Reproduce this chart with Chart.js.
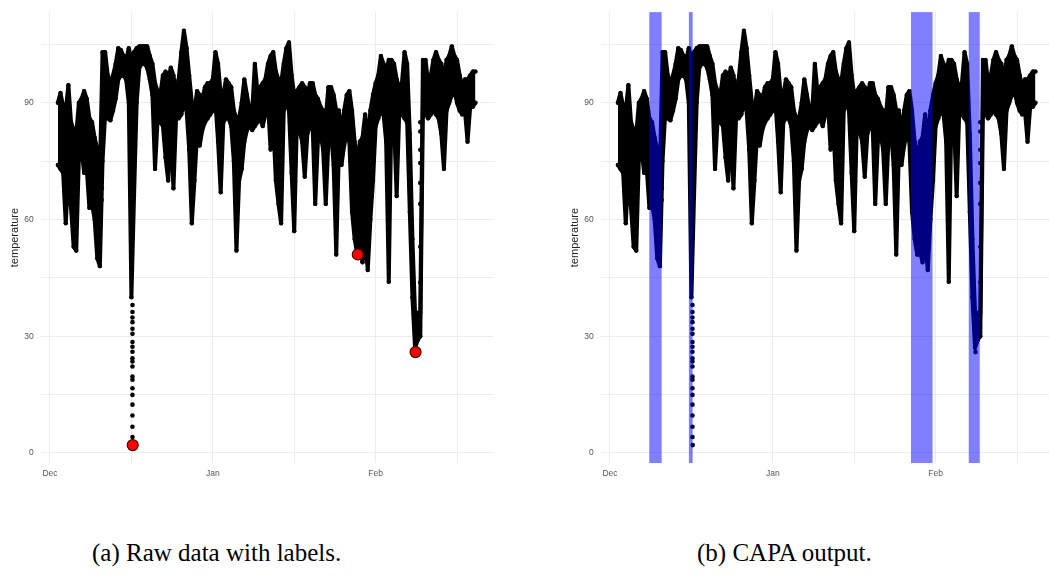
<!DOCTYPE html>
<html>
<head>
<meta charset="utf-8">
<script src="https://cdn.jsdelivr.net/npm/chart.js@4.4.1/dist/chart.umd.min.js"></script>
<style>
  html, body { margin: 0; padding: 0; background: #fff; }
  body { width: 1049px; height: 576px; overflow: hidden; position: relative; }
  .panel { position: absolute; top: 0; width: 520px; height: 480px; }
  #panelA { left: 0; }
  #panelB { left: 560px; }
  .caption { position: absolute; top: 540px; font-family: 'Liberation Serif', serif; font-size: 25px; line-height: 25px; color: #000; white-space: nowrap; }
</style>
</head>
<body>
<div class="panel" id="panelA"><canvas id="rawChart" width="520" height="480"></canvas></div>
<div class="panel" id="panelB"><canvas id="capaChart" width="520" height="480"></canvas></div>
<div class="caption" style="left:92px">(a) Raw data with labels.</div>
<div class="caption" style="left:697px">(b) CAPA output.</div>
<script>
// days since 1 Dec, every half day
const envDays = [
  1.5, 2, 2.5, 3, 3.5, 4, 4.5, 5, 5.5, 6,
  6.5, 7, 7.5, 8, 8.5, 9, 9.5, 10, 10.5, 11,
  11.5, 12, 12.5, 13, 13.5, 14, 14.5, 15, 15.5, 16,
  16.5, 17, 17.5, 18, 18.5, 19, 19.5, 20, 20.5, 21,
  21.5, 22, 22.5, 23, 23.5, 24, 24.5, 25, 25.5, 26,
  26.5, 27, 27.5, 28, 28.5, 29, 29.5, 30, 30.5, 31,
  31.5, 32, 32.5, 33, 33.5, 34, 34.5, 35, 35.5, 36,
  36.5, 37, 37.5, 38, 38.5, 39, 39.5, 40, 40.5, 41,
  41.5, 42, 42.5, 43, 43.5, 44, 44.5, 45, 45.5, 46,
  46.5, 47, 47.5, 48, 48.5, 49, 49.5, 50, 50.5, 51,
  51.5, 52, 52.5, 53, 53.5, 54, 54.5, 55, 55.5, 56,
  56.5, 57, 57.5, 58, 58.5, 59, 59.5, 60, 60.5, 61,
  61.5, 62, 62.5, 63, 63.5, 64, 64.5, 65, 65.5, 66,
  66.5, 67, 67.5, 68, 68.5, 69, 69.5, 70, 70.5, 71,
  71.5, 72, 72.5, 73, 73.5, 74, 74.5, 75, 75.5, 76,
  76.5, 77, 77.5, 78, 78.5, 79, 79.5, 80, 80.5, 81
];
// upper edge of the point cloud
const envHigh = [
  90, 92.5, 89, 88, 94.5, 85, 83, 82, 90, 91,
  93, 91, 86, 85, 81, 78, 72, 103, 103, 97,
  95, 97, 100, 104, 103.5, 102, 101, 104, 101, 103,
  104, 104.5, 104.5, 104.5, 104.5, 102, 100, 95, 93, 92,
  97, 98, 96, 99, 97, 93, 96, 103, 108.5, 104,
  97, 90, 88, 93, 92, 91, 94, 95, 95, 96,
  103, 100, 92, 92, 96, 95, 94, 88, 86, 86,
  90, 96, 92, 88, 88, 100, 93, 94, 95, 96,
  100, 102, 103, 98, 96, 95, 100, 104, 105.5, 97,
  92, 93, 94, 95, 94, 92, 95, 95, 92, 91,
  89, 88, 86, 94, 94, 92, 88, 88, 82, 88,
  92, 93, 88, 80, 75, 80, 81, 87, 80, 88,
  92, 95, 97, 102, 100, 98, 101, 101, 100, 96,
  94, 95, 103, 100, 82, 55, 36, 36, 36, 101,
  101, 95, 97, 101, 103, 101, 100, 96, 101, 102,
  104.5, 102, 101, 97, 94, 96, 96, 97, 98, 98
];
// lower edge of the point cloud
const envLow = [
  74, 73, 72, 59, 72, 63, 53, 52, 76, 78,
  72, 73, 63, 64, 60, 50, 48, 75, 87, 86,
  85.5, 88, 91, 96, 97, 97, 96, 90, 40, 66,
  90, 99, 100, 100, 99, 96, 92, 73, 86, 85,
  84, 76, 70, 84, 68, 86, 86, 87, 90, 88,
  78, 59, 70, 82, 79, 83, 85, 86, 87, 88,
  90, 80, 67, 85, 86, 86, 84, 75, 52, 70,
  73, 80, 83, 84, 83, 84, 85, 86, 84, 87,
  90, 78, 85, 70, 64, 59, 88, 90, 88, 72,
  57, 85, 83, 80, 71, 82, 84, 84, 64, 80,
  82, 78, 64, 80, 83, 74, 51, 78, 74, 79,
  82, 80, 62, 55, 51, 52, 49, 55, 47, 60,
  70, 84, 86, 88, 87, 80, 44, 88, 85, 66,
  88, 87, 86, 85, 62, 40, 27, 29, 30, 88,
  87, 86, 87, 88, 87, 86, 82, 73, 88, 90,
  92, 93, 90, 88, 87, 88, 80, 89, 89, 90
];
// isolated readings outside the dense cloud
const sparseDays = [
  9.85, 9.85, 9.85, 9.85, 9.85,
  15.7, 15.7, 15.7, 15.7, 15.7, 15.7, 15.7, 15.7, 15.7, 15.7,
  15.7, 15.7, 15.7, 15.7, 15.7, 15.7, 15.7, 15.7, 15.7, 15.7,
  70.5, 70.5, 70.5, 70.5, 70.5, 70.5, 70.5, 70.5
];
const sparseTemps = [
  77, 74, 71, 68, 65,
  38, 36.2, 34.8, 33.6, 31.9, 30.6, 28.5, 27.3, 26, 24.3,
  23.5, 22.2, 19.6, 18.8, 16.6, 14.9, 12.4, 9.6, 6.7, 4.1,
  85, 82.6, 77.9, 74.5, 69.4, 64, 53, 43.8
];
// labelled anomalies (red in panel a, plain points in panel b)
const anomDays = [15.75, 58.6, 69.6];
const anomTemps = [2.0, 51.0, 25.9];
// CAPA collective anomaly windows (panel b)
const capaStart = [7.48, 15.02, 57.3, 68.3];
const capaEnd = [9.83, 15.73, 61.4, 70.4];

const xTickValues = [0, 15.5, 31, 46.5, 62, 77.5];
const xTickLabels = ['Dec', '', 'Jan', '', 'Feb', ''];
const yTickValues = [0, 15, 30, 45, 60, 75, 90, 105];
const yTickLabels = ['0', '', '30', '', '60', '', '90', ''];

const capaShade = {
  id: 'capaShade',
  afterDatasetsDraw(chart) {
    const { ctx, chartArea, scales: { x } } = chart;
    ctx.save();
    ctx.fillStyle = 'rgba(0, 0, 255, 0.5)';
    capaStart.forEach((start, i) => {
      const x0 = x.getPixelForValue(start);
      const x1 = x.getPixelForValue(capaEnd[i]);
      ctx.fillRect(x0, chartArea.top, x1 - x0, chartArea.bottom - chartArea.top);
    });
    ctx.restore();
  }
};

const tickFont = { family: "'Liberation Sans', Arial, sans-serif", size: 8.5 };

function edgeLine(values, fill, order) {
  return {
    data: envDays.map((d, i) => ({ x: d, y: values[i] })),
    borderColor: '#000',
    backgroundColor: '#000',
    borderWidth: 4,
    borderJoinStyle: 'round',
    borderCapStyle: 'round',
    pointRadius: 2.2,
    pointBackgroundColor: '#000',
    pointBorderWidth: 0,
    tension: 0,
    fill,
    order
  };
}

function buildChart(canvasId, showLabels, plugins) {
  const datasets = [
    edgeLine(envHigh, '+1', 3),
    edgeLine(envLow, false, 2),
    {
      data: sparseDays.map((d, i) => ({ x: d, y: sparseTemps[i] })),
      showLine: false,
      pointRadius: 2.3,
      pointBackgroundColor: '#000',
      pointBorderWidth: 0,
      order: 1
    },
    {
      data: anomDays.map((d, i) => ({ x: d, y: anomTemps[i] })),
      showLine: false,
      pointRadius: showLabels ? 5.5 : 2.3,
      pointBackgroundColor: showLabels ? '#ff0000' : '#000',
      pointBorderColor: '#4a0000',
      pointBorderWidth: showLabels ? 1.2 : 0,
      order: 0
    }
  ];

  return new Chart(document.getElementById(canvasId), {
    type: 'line',
    data: { datasets },
    plugins,
    options: {
      responsive: false,
      devicePixelRatio: 1,
      animation: false,
      layout: { padding: { top: 10, right: 26.7, left: 0, bottom: 0 } },
      plugins: { legend: { display: false }, tooltip: { enabled: false } },
      scales: {
        x: {
          type: 'linear',
          min: -1.77,
          max: 84.4,
          afterBuildTicks: s => { s.ticks = xTickValues.map(v => ({ value: v })); },
          afterFit: s => { s.height = 17; },
          ticks: {
            autoSkip: false,
            maxRotation: 0,
            padding: 6,
            color: '#555',
            font: tickFont,
            callback: (v, i) => xTickLabels[i]
          },
          grid: { color: '#ececec', lineWidth: 1, drawTicks: false },
          border: { display: false }
        },
        y: {
          min: -2.6,
          max: 113.3,
          afterBuildTicks: s => { s.ticks = yTickValues.map(v => ({ value: v })); },
          afterFit: s => { s.width = 40.7; },
          ticks: {
            autoSkip: false,
            padding: 7,
            color: '#555',
            font: tickFont,
            callback: (v, i) => yTickLabels[i]
          },
          grid: { color: '#ececec', lineWidth: 1, drawTicks: false },
          border: { display: false },
          title: {
            display: true,
            text: 'temperature',
            color: '#222',
            font: { family: "'Liberation Sans', Arial, sans-serif", size: 11 },
            padding: { top: 8, bottom: 0 }
          }
        }
      }
    }
  });
}

buildChart('rawChart', true, []);
buildChart('capaChart', false, [capaShade]);
</script>
</body>
</html>
